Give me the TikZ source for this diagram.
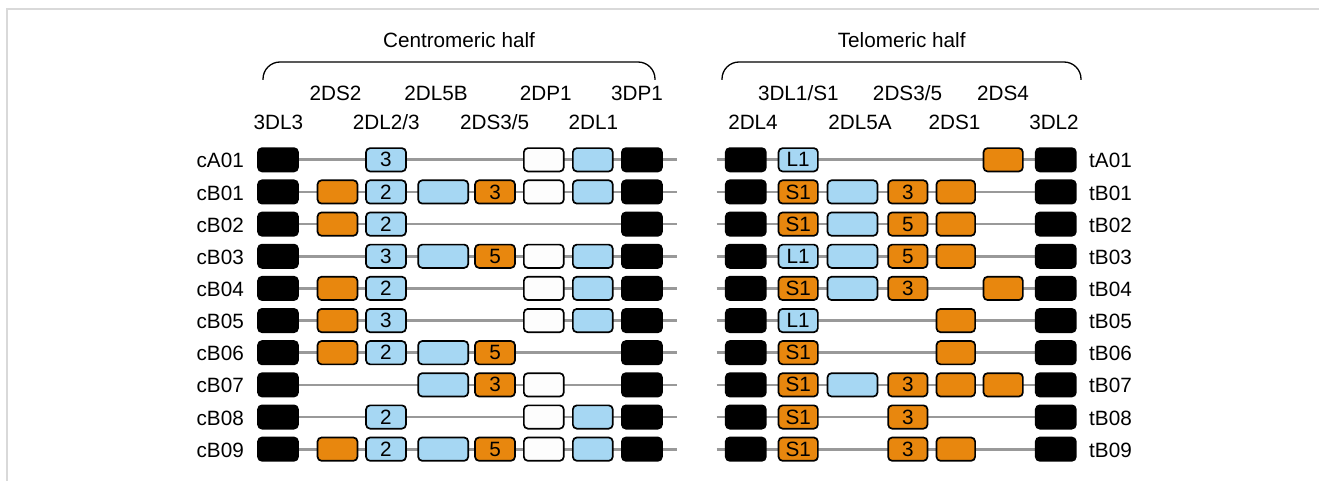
\documentclass[tikz,border=0pt]{standalone}
\usepackage{fontspec}
\setmainfont{Liberation Sans}
\definecolor{gorange}{HTML}{E8870E}
\definecolor{gblue}{HTML}{A6D7F3}
\definecolor{gwhite}{HTML}{FDFDFD}
\definecolor{chromgray}{HTML}{999999}
\definecolor{framegray}{HTML}{D9D9D9}
\begin{document}
\begin{tikzpicture}[x=1pt,y=-1pt,
  txt/.style={font=\fontsize{20.7}{24}\selectfont, inner sep=0pt},
  gene/.style={txt, draw=black, line width=1.7pt, rounded corners=4pt, minimum height=23.3pt, inner sep=0pt},
  gk/.style={fill=black},
  go/.style={fill=gorange},
  gb/.style={fill=gblue},
  gw/.style={fill=gwhite},
  chrom/.style={draw=chromgray, line width=2.7pt},
  brace/.style={draw=black, line width=1.3pt, rounded corners=17pt},
  hdr/.style={txt, anchor=base}
]
\useasboundingbox (0,0) rectangle (1319,481);
\draw[framegray, line width=2.5pt] (7,481) -- (7,9) -- (1319,9);

% headings
\node[hdr] (hC) at (459,47.5) {Centromeric half};
\node[hdr] (hT) at (901.7,47.5) {Telomeric half};
\draw[brace] (263,80) |- (459,62) -| (655,80);
\draw[brace] (722,80) |- (901,62) -| (1081,80);

% gene labels, centromeric
\node[hdr] (l2DS2) at (335.5,100.5) {2DS2};
\node[hdr] (l2DL5B) at (436,100.5) {2DL5B};
\node[hdr] (l2DP1) at (545.8,100.5) {2DP1};
\node[hdr] (l3DP1) at (637,100.5) {3DP1};
\node[hdr] (l3DL3) at (278.3,130) {3DL3};
\node[hdr] (l2DL23) at (386.3,130) {2DL2/3};
\node[hdr] (l2DS35c) at (494.7,130) {2DS3/5};
\node[hdr] (l2DL1) at (593.3,130) {2DL1};
% gene labels, telomeric
\node[hdr] (l3DL1S1) at (798.3,100.5) {3DL1/S1};
\node[hdr] (l2DS35t) at (907.5,100.5) {2DS3/5};
\node[hdr] (l2DS4) at (1003,100.5) {2DS4};
\node[hdr] (l2DL4) at (753,130) {2DL4};
\node[hdr] (l2DL5A) at (860,130) {2DL5A};
\node[hdr] (l2DS1) at (954.5,130) {2DS1};
\node[hdr] (l3DL2) at (1054,130) {3DL2};

% centromeric haplotypes
\foreach \n/\bx [count=\i from 0] in {%
cA01/{0/k/{},2/b/3,5/w/{},6/b/{},7/k/{}},%
cB01/{0/k/{},1/o/{},2/b/2,3/b/{},4/o/3,5/w/{},6/b/{},7/k/{}},%
cB02/{0/k/{},1/o/{},2/b/2,7/k/{}},%
cB03/{0/k/{},2/b/3,3/b/{},4/o/5,5/w/{},6/b/{},7/k/{}},%
cB04/{0/k/{},1/o/{},2/b/2,5/w/{},6/b/{},7/k/{}},%
cB05/{0/k/{},1/o/{},2/b/3,5/w/{},6/b/{},7/k/{}},%
cB06/{0/k/{},1/o/{},2/b/2,3/b/{},4/o/5,7/k/{}},%
cB07/{0/k/{},3/b/{},4/o/3,5/w/{},7/k/{}},%
cB08/{0/k/{},2/b/2,5/w/{},6/b/{},7/k/{}},%
cB09/{0/k/{},1/o/{},2/b/2,3/b/{},4/o/5,5/w/{},6/b/{},7/k/{}}%
}{
  \pgfmathsetmacro\yy{159.8+32.15*\i}
  \coordinate (\n-s) at (278,\yy);
  \coordinate (\n-e) at (677,\yy);
  \draw[chrom] (\n-s) -- (\n-e);
  \node[txt, anchor=east] (\n-lab) at (244,\yy+1) {\n};
  \foreach \c/\t/\l in \bx {
    \pgfmathsetmacro\xx{{278,337.5,386,443.2,495,543.8,592.8,641.9}[\c]}
    \pgfmathsetmacro\ww{{39.9,39.9,39.9,50,39.9,39.9,39.9,40}[\c]}
    \node[gene, g\t, minimum width=\ww pt] (\n-\c) at (\xx,\yy) {\l};
  }
}

% telomeric haplotypes
\foreach \n/\bx [count=\i from 0] in {%
tA01/{0/k/{},1/b/L1,5/o/{},6/k/{}},%
tB01/{0/k/{},1/o/S1,2/b/{},3/o/3,4/o/{},6/k/{}},%
tB02/{0/k/{},1/o/S1,2/b/{},3/o/5,4/o/{},6/k/{}},%
tB03/{0/k/{},1/b/L1,2/b/{},3/o/5,4/o/{},6/k/{}},%
tB04/{0/k/{},1/o/S1,2/b/{},3/o/3,5/o/{},6/k/{}},%
tB05/{0/k/{},1/b/L1,4/o/{},6/k/{}},%
tB06/{0/k/{},1/o/S1,4/o/{},6/k/{}},%
tB07/{0/k/{},1/o/S1,2/b/{},3/o/3,4/o/{},5/o/{},6/k/{}},%
tB08/{0/k/{},1/o/S1,3/o/3,6/k/{}},%
tB09/{0/k/{},1/o/S1,3/o/3,4/o/{},6/k/{}}%
}{
  \pgfmathsetmacro\yy{159.8+32.15*\i}
  \coordinate (\n-s) at (716.7,\yy);
  \coordinate (\n-e) at (1055.8,\yy);
  \draw[chrom] (\n-s) -- (\n-e);
  \node[txt, anchor=west] (\n-lab) at (1089,\yy+1) {\n};
  \foreach \c/\t/\l in \bx {
    \pgfmathsetmacro\xx{{745.8,798.2,852.5,907.8,955.8,1003.2,1055.8}[\c]}
    \pgfmathsetmacro\ww{{40,39.3,49.9,39.3,38.6,39.3,40}[\c]}
    \node[gene, g\t, minimum width=\ww pt] (\n-\c) at (\xx,\yy) {\l};
  }
}
\end{tikzpicture}
\end{document}
